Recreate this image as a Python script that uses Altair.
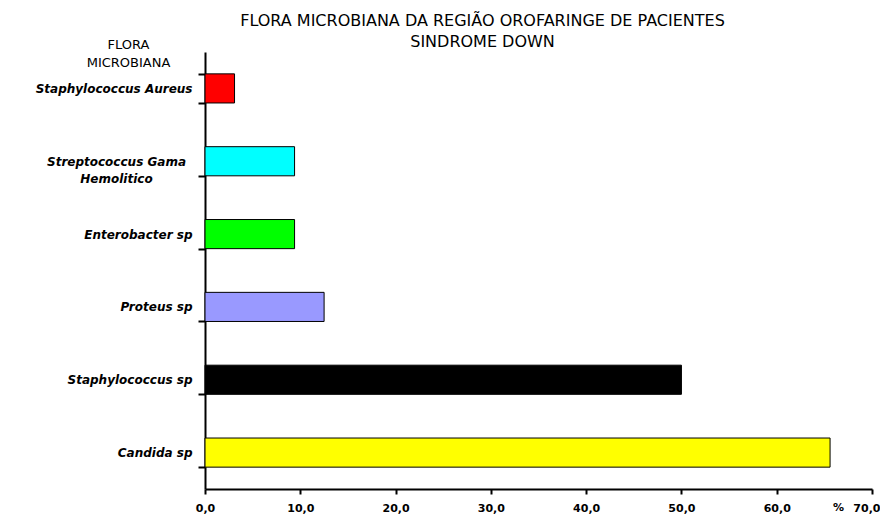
import altair as alt
import pandas as pd

categories = ["Staphylococcus Aureus", "Streptococcus Gama Hemolitico", "Enterobacter sp",
              "Proteus sp", "Staphylococcus sp", "Candida sp"]
values = [3.1, 9.4, 9.4, 12.5, 50.0, 65.6]
colors = ["#ff0000", "#00ffff", "#00ff00", "#9999ff", "#000000", "#ffff00"]
x_ticks = [0, 10, 20, 30, 40, 50, 60, 70]

df = pd.DataFrame({"flora": categories, "pct": values})

FONT = "DejaVu Sans"
TWO = "datum.label == 'Streptococcus Gama Hemolitico'"

chart = alt.Chart(df).mark_bar(stroke="black", strokeWidth=1).encode(
    y=alt.Y("flora:N", sort=categories,
            scale=alt.Scale(paddingInner=0.6, paddingOuter=0.3),
            axis=alt.Axis(
                title=["FLORA", "MICROBIANA"], titleAngle=0, titleAlign="center",
                titleBaseline="middle", titleX=-77, titleY=-8, titleFont=FONT,
                titleFontSize=13, titleFontWeight="normal", titleLineHeight=18,
                titleColor="black",
                tickBand="extent", tickSize=7, tickWidth=2, tickColor="black",
                domainColor="black", domainWidth=2,
                labelFont=FONT, labelFontSize=12, labelFontWeight="bold",
                labelFontStyle="italic", labelColor="black", labelLineHeight=17,
                labelExpr=TWO + " ? ['Streptococcus Gama', 'Hemolitico'] : datum.label",
                labelAlign=alt.condition(TWO, alt.value("center"), alt.value("right")),
                labelPadding=alt.condition(TWO, alt.value(82), alt.value(6)),
            )),
    x=alt.X("pct:Q", scale=alt.Scale(domain=[0, 70]),
            axis=alt.Axis(
                values=x_ticks, grid=False,
                labelExpr="replace(format(datum.value, '.1f'), '.', ',')",
                labelFont=FONT, labelFontSize=11, labelFontWeight="bold", labelColor="black",
                labelAlign=alt.condition("datum.value == 70", alt.value("right"), alt.value("center")),
                labelOffset=alt.condition("datum.value == 70", alt.value(8), alt.value(0)),
                tickSize=5, tickWidth=2, tickColor="black", domainColor="black", domainWidth=2,
                labelPadding=8,
                title="%", titleX=633, titleY=18, titleBaseline="middle", titleAlign="center",
                titleFont=FONT, titleFontSize=11, titleFontWeight="bold", titleColor="black",
            )),
    color=alt.Color("flora:N", sort=categories,
                    scale=alt.Scale(domain=categories, range=colors), legend=None),
).properties(
    width=667, height=437,
    title=alt.TitleParams(
        text=["FLORA MICROBIANA DA REGIÃO OROFARINGE DE PACIENTES", "SINDROME DOWN"],
        font=FONT, fontSize=16, fontWeight="normal", color="black", lineHeight=21,
        anchor="middle", dx=-56, dy=22, offset=10,
    ),
    background="white",
    autosize=alt.AutoSizeParams(type="none"),
    padding={"left": 197, "top": 44, "right": 8, "bottom": 26},
).configure_view(stroke=None)

chart.save("out.html", embed_options={"renderer": "svg", "actions": False})
